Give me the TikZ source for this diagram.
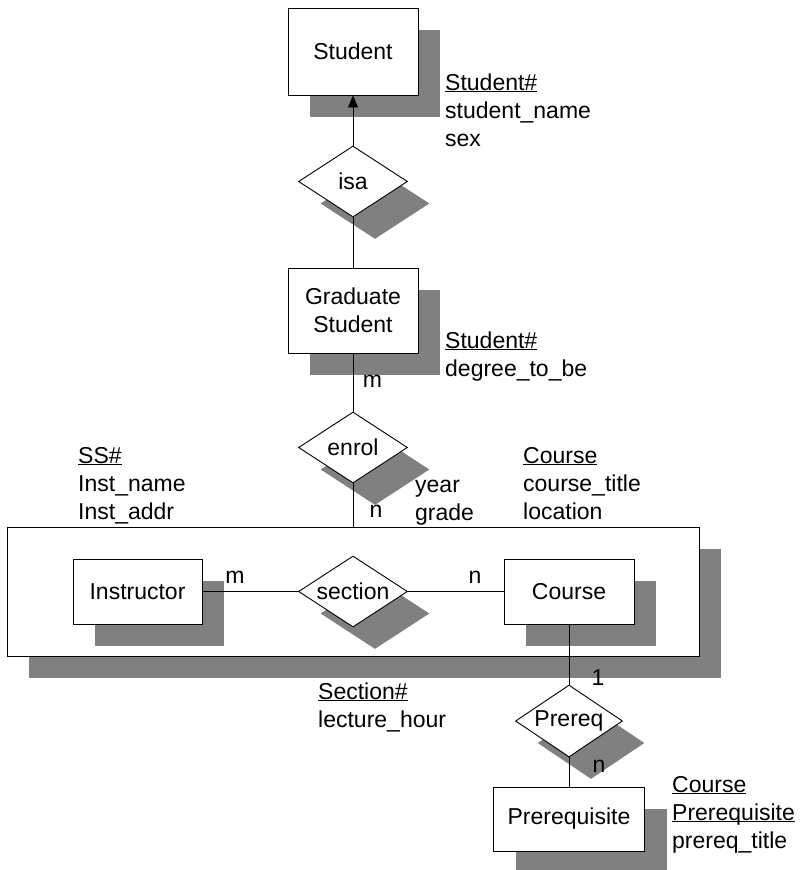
\documentclass[tikz,border=0pt]{standalone}
\usepackage{fontspec}
\setmainfont{Liberation Sans}
\usetikzlibrary{shapes.geometric,shadows,arrows.meta}

\newcommand\erfont{\fontsize{23}{28}\selectfont}
% key attribute: underline just below the baseline, across descenders
\newcommand\keyattr[1]{\underline{\smash{#1}}}

\tikzset{
  er/.style={draw=black, fill=white, line width=0.9pt, inner sep=0pt, font=\erfont,
    drop shadow={shadow xshift=22pt, shadow yshift=-22pt, fill=black!50, opacity=1}},
  entity/.style={er, rectangle, align=center},
  relation/.style={er, diamond, aspect=1.535, minimum width=109pt, minimum height=71pt},
  attr/.style={anchor=base west, inner sep=0pt, font=\erfont},
  card/.style={anchor=base, inner sep=0pt, font=\erfont},
  link/.style={line width=0.9pt}
}

\begin{document}
\begin{tikzpicture}[x=1pt, y=-1pt]
  \useasboundingbox (0,0) rectangle (802,870);

  % entities and relationships
  \node[entity, minimum width=130pt, minimum height=87pt] (student) at (353,51.5) {Student};
  \node[relation] (isa) at (353,181.5) {isa};
  \node[entity, minimum width=130pt, minimum height=85pt] (grad) at (353,310.5) {Graduate\\Student};
  \node[relation] (enrol) at (353,447.5) {enrol};

  % aggregation of Instructor -- section -- Course
  \node[entity, minimum width=692pt, minimum height=129pt] (agg) at (353,591.5) {};
  \node[entity, minimum width=129pt, minimum height=65pt] (instr) at (137.5,591.5) {Instructor};
  \node[relation] (section) at (353,591.5) {section};
  \node[entity, minimum width=130pt, minimum height=65pt] (course) at (569,591.5) {Course};

  \node[relation, minimum width=107pt, minimum height=72pt] (prereq) at (569,721) {Prereq};
  \node[entity, minimum width=151pt, minimum height=64pt] (prereqent) at (569,819) {Prerequisite};

  % connectors
  \draw[link, -{Triangle[length=12pt, width=10pt]}] (isa) -- (student);
  \draw[link] (grad) -- (isa);
  \draw[link] (grad) -- (enrol);
  \draw[link] (enrol) -- (agg);
  \draw[link] (instr) -- (section);
  \draw[link] (section) -- (course);
  \draw[link] (course) -- (prereq);
  \draw[link] (prereq) -- (prereqent);

  % cardinalities
  \node[card] (cgrad) at (372.5,387) {m};
  \node[card] (cagg) at (376,517) {n};
  \node[card] (cinstr) at (235,583) {m};
  \node[card] (ccourse) at (475,583) {n};
  \node[card] (cone) at (598,685) {1};
  \node[card] (cpre) at (599,772) {n};

  % attributes
  \node[attr] (astudent) at (445,90) {\vtop{\hbox{\keyattr{Student\#}}\hbox{student\_name}\hbox{sex}}};
  \node[attr] (agrad) at (445,348) {\vtop{\hbox{\keyattr{Student\#}}\hbox{degree\_to\_be}}};
  \node[attr] (ainstr) at (78,463) {\vtop{\hbox{\keyattr{SS\#}}\hbox{Inst\_name}\hbox{Inst\_addr}}};
  \node[attr] (aenrol) at (415,492) {\vtop{\hbox{year}\hbox{grade}}};
  \node[attr] (acourse) at (523,463) {\vtop{\hbox{\keyattr{Course}}\hbox{course\_title}\hbox{location}}};
  \node[attr] (asection) at (318,699) {\vtop{\hbox{\keyattr{Section\#}}\hbox{lecture\_hour}}};
  \node[attr] (aprereq) at (672,792) {\vtop{\hbox{\keyattr{Course}}\hbox{\keyattr{Prerequisite}}\hbox{prereq\_title}}};
\end{tikzpicture}
\end{document}
